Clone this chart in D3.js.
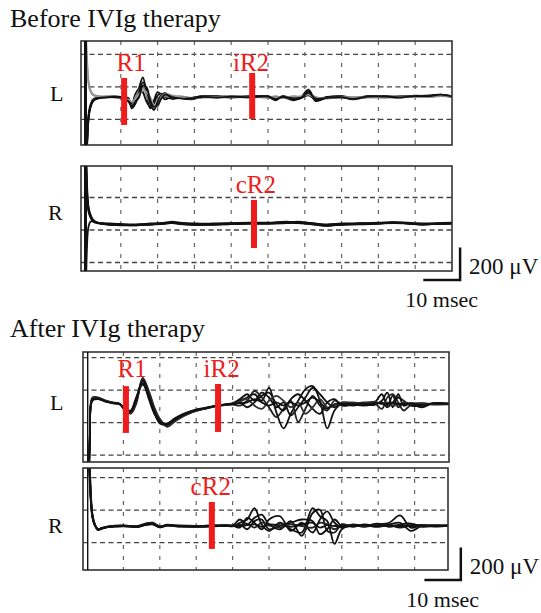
<!DOCTYPE html>
<html>
<head>
<meta charset="utf-8">
<script src="https://cdn.jsdelivr.net/npm/d3@7"></script>
<style>
  body { margin: 0; background: #fff; }
</style>
</head>
<body>
<div id="chart"></div>
<script>
// blink reflex recordings, values in microvolts relative to baseline, time in msec
const gridTimes = [10, 20, 30, 40, 50, 60, 70, 80, 90]

const beforeLTime = [0.3, 0.8, 1.5, 2.5, 4, 6, 8, 10, 11, 12, 13, 14, 15, 16, 17, 18, 19, 20, 21, 22, 24, 26, 29, 32, 36, 40, 45, 50, 52, 54, 57, 59, 61, 63, 66, 70, 73, 77, 82, 86, 90, 94, 97, 100]
const beforeLTraces = [
  [-600, -300, -80, -20, -5, 0, 0, -10, -20, -10, -60, -20, 60, 120, 20, -70, -40, 10, 20, 0, -10, 0, -15, 0, 5, 0, 5, 0, -15, 0, -20, 0, 45, -20, -5, 0, -15, 0, 5, 0, 5, 10, 15, 5],
  [-600, -320, -90, -25, -8, -3, 2, -5, -25, -20, -40, 20, 50, 30, -30, -60, -20, 30, 10, -15, 5, -5, -10, 3, 0, 5, 0, 5, -10, 5, -10, -5, 10, -15, 0, 5, -5, 3, 0, -3, 5, 3, 10, 0],
  [600, 250, 60, 15, 5, 2, 0, -5, -15, -30, -50, 0, 40, 60, 10, -40, -70, -20, 15, 5, 0, 5, -5, 0, -5, 0, 3, -5, 5, -5, 5, 0, 20, 0, -10, 0, -10, 0, -5, 5, 0, 0, 5, 0],
  [-600, -280, -70, -15, -3, 2, 3, 0, -15, -5, -70, -40, 30, 90, 50, -40, -80, -30, 10, 25, -10, -5, -5, 5, 3, -3, 3, 2, -20, 3, -15, -8, 35, -25, -3, 3, -10, 5, 3, 3, 8, 5, 12, 5],
  [500, 200, 50, 10, 3, 0, -3, -8, -20, -15, -30, -10, 20, 40, 30, 0, -50, -60, 0, 20, 10, 0, -10, -5, 0, 3, -3, 0, -5, -3, 0, 5, 15, -5, -5, -3, 0, -3, 0, 0, 3, 2, 8, 3],
  [-600, -300, -85, -22, -6, -2, 0, -3, -18, -25, -55, -30, 0, 70, 60, -20, -60, -50, -10, 15, 0, -8, -12, 0, -3, 2, -2, 3, -12, 0, -8, -3, 25, -10, -5, -2, -12, 2, 2, -2, 6, 6, 15, 3]
]
const beforeLColors = ['#111', '#111', '#888', '#111', '#999', '#111']
const beforeLMarkers = [
  { label: 'R1', t: 10.9, lo: -172, hi: 117, labelT: 12.8, labelV: 160 },
  { label: 'iR2', t: 45.7, lo: -135, hi: 148, labelT: 45.4, labelV: 160 }
]

const beforeRTime = [0.3, 0.8, 1.2, 1.8, 2.5, 3.5, 5, 7, 10, 14, 18, 22, 24, 26, 30, 35, 40, 45, 50, 55, 58, 62, 66, 70, 75, 80, 84, 88, 92, 96, 100]
const beforeRTraces = [
  [900, 200, 90, 45, 20, 8, 3, 0, -3, -5, 0, 5, 10, 5, 0, 0, 3, 5, 5, 10, 12, 5, -5, 0, 3, 5, 10, 5, 0, 3, 5],
  [-900, -150, -20, 15, 15, 8, 2, -3, -8, -8, -3, 3, 12, 3, -5, -3, 0, 3, 3, 8, 5, 0, -10, -5, 0, 3, 8, 3, -3, 0, 3],
  [900, 260, 110, 55, 25, 10, 5, 3, 0, -2, 3, 8, 15, 8, 3, 3, 5, 8, 8, 15, 8, 3, -3, 3, 5, 8, 12, 8, 3, 5, 8],
  [900, 180, 80, 38, 15, 5, 0, -5, -6, -8, -3, 2, 5, 0, -5, -5, 0, 2, 2, 5, 10, -2, -12, -3, -2, 2, 6, 2, -3, 0, 2],
  [800, 220, 100, 50, 22, 9, 4, -2, -4, -6, -2, 4, 8, 2, -2, -2, 2, 4, 4, 8, 15, 2, -8, -2, 2, 4, 8, 4, -2, 2, 4]
]
const beforeRColors = ['#111', '#111', '#111', '#111', '#111']
const beforeRMarkers = [
  { label: 'cR2', t: 46.2, lo: -148, hi: 148, labelT: 46.7, labelV: 190 }
]

const afterLTime = [0.3, 0.8, 1.5, 3, 5, 7, 9, 10.5, 12, 13.5, 15.3, 17, 18.5, 20, 22, 24, 26.5, 29, 32, 36, 40, 42, 44, 46, 48, 50, 52, 54, 56, 58, 60, 62, 64, 66, 68, 70, 73, 76, 79, 81, 82.5, 84, 85.5, 87, 89, 92, 95, 100]
const afterLTraces = [
  [-700, -200, 30, 35, 20, 8, 0, -35, -50, 20, 150, 60, -40, -100, -130, -100, -70, -45, -30, -10, 0, 20, 40, 60, 20, 100, -50, -150, -60, 20, 90, 110, 20, -150, -40, 0, -10, 5, 10, 60, -10, 50, -20, 5, 0, -20, 3, 0],
  [-700, -250, 20, 30, 18, 5, -3, -30, -40, 40, 130, 30, -60, -110, -120, -95, -65, -40, -25, -8, 5, 30, 60, 20, 70, 40, -20, 10, -70, -20, 40, 100, 60, 10, -20, 10, 5, 0, -5, 20, 70, -20, 60, -10, 5, 0, 0, 3],
  [-700, -180, 40, 40, 22, 10, 2, -40, -60, 0, 160, 80, -20, -90, -140, -110, -75, -50, -30, -12, -3, -10, 20, 80, 40, -20, -80, -30, 20, -110, -30, 50, -10, -40, 20, 0, 0, 10, 5, -30, 40, 60, 10, -40, -5, 5, -3, 0],
  [-700, -220, 25, 32, 15, 6, -2, -38, -45, 30, 120, 50, -50, -120, -125, -90, -60, -42, -28, -10, 2, 10, -20, 10, 50, 70, 0, -40, 30, 60, 20, -30, -60, 10, 30, -10, -5, -10, 0, 10, -20, 10, 40, 20, -10, -10, 5, 2],
  [-700, -190, 35, 38, 20, 9, 1, -30, -55, 10, 140, 70, -30, -95, -135, -105, -72, -48, -32, -11, 0, 15, 30, -10, -30, 20, 50, 20, -20, 10, -60, -20, 30, -20, -10, 5, 10, 5, 15, 0, 10, -10, -5, 10, 0, 5, 0, -2],
  [-700, -210, 28, 34, 18, 7, 0, -36, -48, 25, 145, 55, -45, -105, -128, -98, -68, -44, -29, -9, 1, 5, 10, 30, 10, -10, 10, -10, 10, -10, 10, 40, 10, -30, 0, 0, 0, 0, 5, 5, 0, 5, 0, 0, 3, -5, 2, 0]
]
const afterLColors = ['#111', '#111', '#222', '#111', '#333', '#111']
const afterLMarkers = [
  { label: 'R1', t: 10.7, lo: -178, hi: 110, labelT: 12.4, labelV: 166 },
  { label: 'iR2', t: 36, lo: -172, hi: 123, labelT: 37, labelV: 166 }
]

const afterRTime = [0.3, 0.8, 1.5, 2.2, 3, 4, 6, 10, 14, 16, 18, 20, 22, 25, 30, 35, 38, 40, 42, 44, 46, 48, 50, 53, 56, 59, 62, 64, 66, 68, 70, 73, 76, 80, 83, 86, 89, 92, 96, 100]
const afterRTraces = [
  [900, 300, 60, 5, -20, -15, -5, 0, -3, 10, 15, -5, 5, 0, -3, 0, 3, 0, 20, 40, 110, 10, -30, 20, -20, -40, 110, 60, 30, -110, -20, 5, -5, 10, 20, 65, -10, 5, 0, 5],
  [900, 250, 50, 0, -25, -18, -3, 3, -5, 5, 10, -8, 3, -3, 0, 3, 0, 3, 40, 10, 50, 70, 10, -20, 30, -60, 80, 100, -30, -40, 10, -5, 10, 0, 10, 20, -30, 0, 5, 3],
  [900, 350, 70, 8, -18, -12, -3, 2, 0, 15, 20, -2, 8, 3, 0, 3, 5, 3, -10, 50, 20, -20, 40, 60, -30, 20, -40, 40, 90, 20, -10, 10, 0, 15, -5, 10, 15, -5, 0, 0],
  [900, 280, 55, 3, -22, -16, -6, -2, -5, 8, 12, -8, 3, -2, -5, -2, 0, -2, 10, -20, 30, 40, -20, 0, 20, 40, 30, -50, -20, 40, 0, 0, 5, -5, 5, -10, 5, 5, -3, 2],
  [900, 320, 65, 6, -20, -14, -4, 0, -2, 12, 18, -3, 6, 2, -2, 2, 4, 2, 5, 15, -10, 20, 5, -10, 10, 0, -10, 20, 10, -20, 5, 3, 0, 5, 0, 5, 0, 0, 3, 0],
  [900, 290, 58, 4, -21, -15, -5, 1, -4, 9, 14, -6, 4, 1, -3, 1, 2, 1, 0, 5, 10, -5, 10, 5, -5, 10, 20, -10, 5, 0, 0, 0, 3, 0, 3, 0, 3, 2, 0, 2]
]
const afterRColors = ['#111', '#111', '#111', '#111', '#222', '#111']
const afterRMarkers = [
  { label: 'cR2', t: 34.3, lo: -141, hi: 148, labelT: 34, labelV: 190 }
]

const titles = ['Before IVIg therapy', 'After IVIg therapy']
const scaleMsec = 10
const scaleMicroV = 200

const serif = "'Liberation Serif', 'Times New Roman', serif"

// layout of the four recording boxes
const panels = [
  { side: 'L', box: [81, 452, 41, 145], xr: [84, 452], base: 97, gridOffset: 62, sideY: 101, edge: 3,
    time: beforeLTime, traces: beforeLTraces, colors: beforeLColors, markers: beforeLMarkers },
  { side: 'R', box: [81, 452, 166, 271], xr: [84, 452], base: 224, gridOffset: -37, sideY: 220, edge: 3,
    time: beforeRTime, traces: beforeRTraces, colors: beforeRColors, markers: beforeRMarkers,
    bar: { t: 102.2, v: -345 } },
  { side: 'L', box: [83, 449, 352, 462], xr: [87, 451], base: 404, gridOffset: 86, sideY: 410, edge: 1.4,
    time: afterLTime, traces: afterLTraces, colors: afterLColors, markers: afterLMarkers },
  { side: 'R', box: [83, 448, 468, 570], xr: [87, 451], base: 526, gridOffset: 98, sideY: 533, edge: 1.4,
    time: afterRTime, traces: afterRTraces, colors: afterRColors, markers: afterRMarkers,
    bar: { t: 102.7, v: -332 } }
]

const svg = d3
  .select('#chart')
  .append('svg')
  .attr('width', 541)
  .attr('height', 613)

svg.append('text').attr('x', 10).attr('y', 27).attr('font-family', serif).attr('font-size', 26).attr('fill', '#111').text(titles[0])
svg.append('text').attr('x', 10).attr('y', 337).attr('font-family', serif).attr('font-size', 26).attr('fill', '#111').text(titles[1])

const divPx = 32.5 // px per 200 uV

panels.forEach((p, i) => {
  const [bx0, bx1, by0, by1] = p.box
  const x = d3.scaleLinear().domain([0, 100]).range(p.xr)
  const y = d3.scaleLinear().domain([-scaleMicroV, scaleMicroV]).range([p.base + divPx, p.base - divPx])

  const g = svg.append('g')

  g.append('clipPath')
    .attr('id', 'clip' + i)
    .append('rect')
    .attr('x', bx0)
    .attr('y', by0)
    .attr('width', bx1 - bx0)
    .attr('height', by1 - by0)

  // horizontal grid (every 200 uV)
  const hLines = d3.range(-4, 5)
    .map(k => p.gridOffset + k * scaleMicroV)
    .filter(v => y(v) > by0 + 2 && y(v) < by1 - 2)
  g.selectAll('.hgrid')
    .data(hLines)
    .enter()
    .append('line')
    .attr('x1', bx0)
    .attr('x2', bx1)
    .attr('y1', d => y(d))
    .attr('y2', d => y(d))
    .attr('stroke', '#444')
    .attr('stroke-width', 1.3)
    .attr('stroke-dasharray', '5,3.5')

  // vertical grid (every 10 msec)
  g.selectAll('.vgrid')
    .data(gridTimes)
    .enter()
    .append('line')
    .attr('x1', d => x(d))
    .attr('x2', d => x(d))
    .attr('y1', by0)
    .attr('y2', by1)
    .attr('stroke', '#666')
    .attr('stroke-width', 1.2)
    .attr('stroke-dasharray', '4,7')

  // traces
  const line = d3.line()
    .x(d => x(d[0]))
    .y(d => y(d[1]))
    .curve(d3.curveCatmullRom.alpha(0.5))

  g.append('g')
    .attr('clip-path', 'url(#clip' + i + ')')
    .selectAll('path')
    .data(p.traces)
    .enter()
    .append('path')
    .attr('d', vals => line(p.time.map((t, j) => [t, vals[j]])))
    .attr('fill', 'none')
    .attr('stroke', (d, j) => p.colors[j])
    .attr('stroke-width', 1.8)
    .attr('stroke-linejoin', 'round')

  // frame with double left edge
  g.append('rect')
    .attr('x', bx0)
    .attr('y', by0)
    .attr('width', bx1 - bx0)
    .attr('height', by1 - by0)
    .attr('fill', 'none')
    .attr('stroke', '#333')
    .attr('stroke-width', 1.6)
  g.append('line')
    .attr('x1', x(0) + p.edge / 2)
    .attr('x2', x(0) + p.edge / 2)
    .attr('y1', by0)
    .attr('y2', by1)
    .attr('stroke', '#111')
    .attr('stroke-width', p.edge)

  // red latency markers
  g.selectAll('.marker')
    .data(p.markers)
    .enter()
    .append('line')
    .attr('x1', d => x(d.t))
    .attr('x2', d => x(d.t))
    .attr('y1', d => y(d.hi))
    .attr('y2', d => y(d.lo))
    .attr('stroke', '#f01c1c')
    .attr('stroke-width', 6)

  g.selectAll('.mlabel')
    .data(p.markers)
    .enter()
    .append('text')
    .attr('x', d => x(d.labelT))
    .attr('y', d => y(d.labelV))
    .attr('text-anchor', 'middle')
    .attr('font-family', serif)
    .attr('font-size', 25)
    .attr('fill', '#f01c1c')
    .text(d => d.label)

  g.append('text')
    .attr('x', p.side === 'L' ? 50 : 48)
    .attr('y', p.sideY)
    .attr('font-family', serif)
    .attr('font-size', 22)
    .attr('fill', '#111')
    .text(p.side)

  // calibration bar
  if (p.bar) {
    const cx = x(p.bar.t)
    const cy = y(p.bar.v)
    g.append('path')
      .attr('d', d3.line()([
        [x(p.bar.t - scaleMsec), cy],
        [cx, cy],
        [cx, y(p.bar.v + scaleMicroV)]
      ]))
      .attr('fill', 'none')
      .attr('stroke', '#111')
      .attr('stroke-width', 2.5)
    g.append('text')
      .attr('x', cx + 9)
      .attr('y', cy - 6)
      .attr('font-family', serif)
      .attr('font-size', 23)
      .attr('fill', '#111')
      .text(scaleMicroV + ' μV')
    g.append('text')
      .attr('x', x(p.bar.t - scaleMsec / 2))
      .attr('y', cy + 27)
      .attr('text-anchor', 'middle')
      .attr('font-family', serif)
      .attr('font-size', 22)
      .attr('fill', '#111')
      .text(scaleMsec + ' msec')
  }
})
</script>
</body>
</html>
